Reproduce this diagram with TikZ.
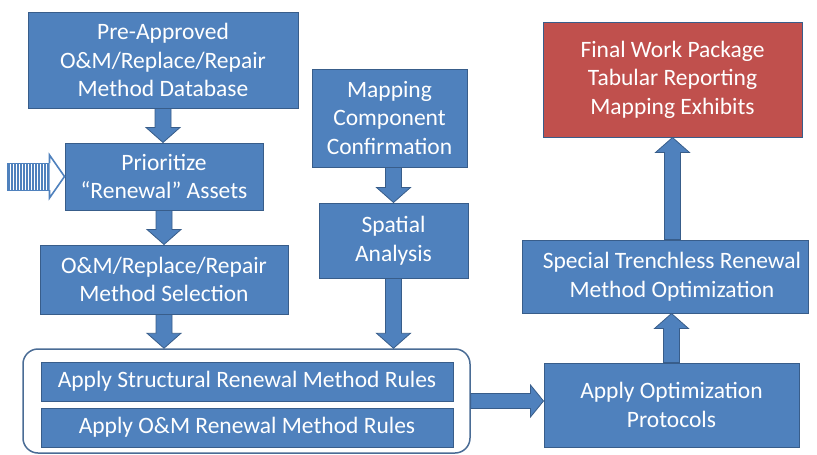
\documentclass[tikz,border=0pt]{standalone}
\usepackage{fontspec}
\setmainfont{Carlito}
\usetikzlibrary{calc}
\definecolor{boxblue}{HTML}{4F81BD}
\definecolor{boxline}{HTML}{385D8A}
\definecolor{boxred}{HTML}{C0504D}
\definecolor{frameline}{HTML}{4A6C95}

% vertical block arrow: shaft starts at #1, tip at the height of #2 (same x as #1)
\newcommand\vblock[2]{%
  \path[blk] let \p1=(#1), \p2=(#2), \n1={sign(\y2-\y1)} in
    (\x1-8pt,\y1) -- (\x1-8pt,{\y2-(\n1)*15pt}) -- (\x1-17pt,{\y2-(\n1)*15pt})
    -- (\x1,\y2) -- (\x1+17pt,{\y2-(\n1)*15pt}) -- (\x1+8pt,{\y2-(\n1)*15pt})
    -- (\x1+8pt,\y1) -- cycle;}
% horizontal block arrow: shaft starts at #1, tip at the x of #2 (same y as #1)
\newcommand\hblock[2]{%
  \path[blk] let \p1=(#1), \p2=(#2), \n1={sign(\x2-\x1)} in
    (\x1,\y1-7.5pt) -- ({\x2-(\n1)*13pt},\y1-7.5pt) -- ({\x2-(\n1)*13pt},\y1-16pt)
    -- (\x2,\y1) -- ({\x2-(\n1)*13pt},\y1+16pt) -- ({\x2-(\n1)*13pt},\y1+7.5pt)
    -- (\x1,\y1+7.5pt) -- cycle;}

\begin{document}
\begin{tikzpicture}[x=1pt,y=-1pt,
  boxtext/.style={text=white, align=center, inner sep=0pt,
    font=\fontsize{23.5}{28.5}\selectfont},
  box/.style={boxtext, draw=boxline, fill=boxblue, line width=1pt},
  blk/.style={draw=boxline, fill=boxblue, line width=0.8pt, line join=miter},
  group/.style={draw=frameline, fill=white, line width=1.5pt,
    rounded corners=15pt, inner sep=0pt},
]
\useasboundingbox (0,0) rectangle (817,455);

% outlined group round the two rule steps
\node[group, minimum width=447pt, minimum height=104pt] (cont) at (246.5,401) {};

% boxes
\node[box, minimum width=270pt, minimum height=96pt] (db) at (163,60)
  {Pre-Approved\\O\&M/Replace/Repair\\Method Database};
\node[box, minimum width=198pt, minimum height=67pt] (prio) at (164,176.5)
  {Prioritize\\“Renewal” Assets};
\node[box, minimum width=248pt, minimum height=69pt] (sel) at (164,279.5)
  {O\&M/Replace/Repair\\Method Selection};
\node[box, minimum width=155pt, minimum height=98pt] (map) at (389.5,118)
  {Mapping\\Component\\Confirmation};
\node[box, minimum width=149pt, minimum height=75pt] (spat) at (393.5,240.5)
  {Spatial\\Analysis};
\node[box, minimum width=412pt, minimum height=39pt] (ruleA) at (247,381.5)
  {Apply Structural Renewal Method Rules};
\node[box, minimum width=412pt, minimum height=39pt] (ruleB) at (247,427.5)
  {Apply O\&M Renewal Method Rules};
\node[box, minimum width=255pt, minimum height=84pt] (opt) at (671.5,405)
  {Apply Optimization\\Protocols};
\node[box, minimum width=286pt, minimum height=73pt] (spec) at (665,276.5) {};
\node[boxtext] (spec-text) at ($(spec.center)+(7,0)$)
  {Special Trenchless Renewal\\Method Optimization};
\node[box, fill=boxred, minimum width=259pt, minimum height=115pt] (final) at (672.5,79.5)
  {Final Work Package\\Tabular Reporting\\Mapping Exhibits};

% block arrows between the steps
\vblock{db.south}{prio.north}
\vblock{prio.south}{sel.north}
\vblock{sel.south}{sel.south |- cont.north}
\vblock{spat.north |- map.south}{spat.north}
\vblock{spat.south}{spat.south |- cont.north}
\hblock{cont.east}{opt.west |- cont.east}
\vblock{opt.north}{opt.north |- spec.south}
\vblock{final.south |- spec.north}{final.south}

% striped input arrow feeding the prioritisation step
\coordinate (feed) at (7,176.5);
\path[fill=white, draw=boxblue, line width=1pt]
  let \p1=(feed), \p2=(prio.west) in
  (\x1,\y1-13.5pt) rectangle (\x2-15pt,\y1+13.5pt);
\foreach \i in {0,...,13}
  \fill[boxblue] let \p1=(feed) in
    (\x1+1.2pt+\i*3pt,\y1-13.5pt) rectangle ++(1.6pt,27pt);
\path[fill=white, draw=boxblue, line width=1.6pt, line join=miter]
  let \p1=(feed), \p2=(prio.west) in
  (\x2-15pt,\y1-13.5pt) -- (\x2-15pt,\y1-21.5pt) -- (\x2,\y1)
  -- (\x2-15pt,\y1+21.5pt) -- (\x2-15pt,\y1+13.5pt);
\end{tikzpicture}
\end{document}
